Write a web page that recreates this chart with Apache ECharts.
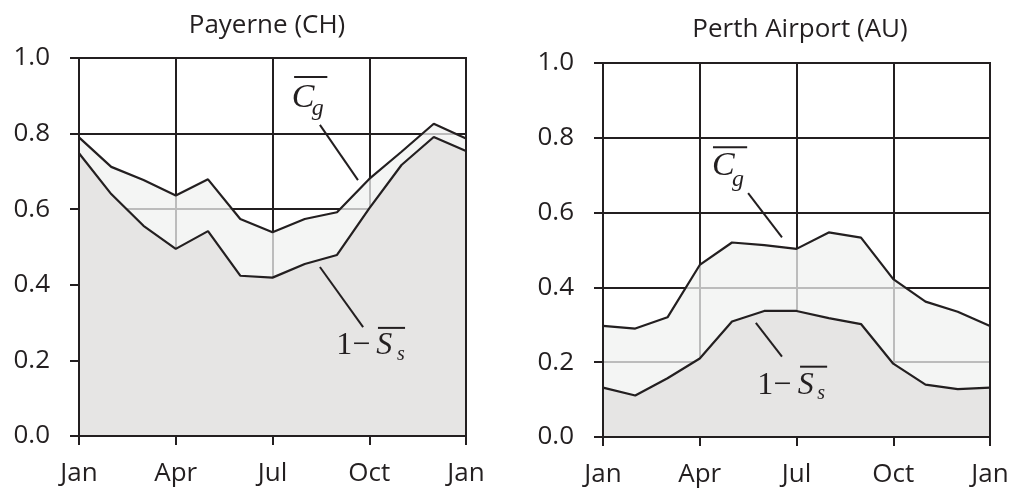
<!DOCTYPE html>
<html><head><meta charset="utf-8">
<script src="https://cdn.jsdelivr.net/npm/echarts@6/dist/echarts.min.js"></script>
<style>html,body{margin:0;padding:0;background:#fff}#c{width:1013px;height:493px}</style>
</head><body><div id="c"></div>
<script>
// ---- data ----
const months = ['Jan','Feb','Mar','Apr','May','Jun','Jul','Aug','Sep','Oct','Nov','Dec','Jan'];
const xTickLabels = ['Jan','Apr','Jul','Oct','Jan'];
const yTicks = [0.0, 0.2, 0.4, 0.6, 0.8, 1.0];
const titles = ['Payerne (CH)', 'Perth Airport (AU)'];
const payerneCg = [0.790,0.712,0.677,0.636,0.679,0.574,0.539,0.574,0.592,0.680,0.752,0.826,0.787];
const payerneOneMinusSs = [0.748,0.640,0.556,0.495,0.542,0.424,0.419,0.455,0.479,0.602,0.717,0.791,0.754];
const perthCg = [0.297,0.290,0.320,0.460,0.520,0.513,0.503,0.547,0.533,0.422,0.362,0.335,0.297];
const perthOneMinusSs = [0.132,0.111,0.157,0.210,0.309,0.337,0.337,0.318,0.302,0.196,0.140,0.128,0.132];

// annotation anchors in data coordinates [month index, value]
const annCg = [
  {C:[6.60,0.894], g:[7.22,0.866], bar:[[6.67,0.950],[7.70,0.950]], lead:[[7.47,0.823],[8.65,0.677]]},
  {C:[3.38,0.724], g:[4.00,0.687], bar:[[3.41,0.775],[4.47,0.775]], lead:[[4.50,0.652],[5.55,0.534]]}
];
const annSs = [
  {one:[7.98,0.238], S:[9.22,0.238], s:[9.86,0.215], bar:[[9.27,0.286],[10.11,0.286]], lead:[[7.47,0.447],[8.81,0.288]]},
  {one:[4.78,0.137], S:[6.04,0.137], s:[6.64,0.116], bar:[[6.11,0.188],[6.95,0.188]], lead:[[4.74,0.305],[5.55,0.215]]}
];

const INK = '#231f20';
const pairs = arr => arr.map((v, i) => [i, v]);

function xAxis(g) {
  return {
    type: 'value', gridIndex: g, min: 0, max: months.length - 1, interval: 3,
    axisLine: {show: false},
    axisTick: {show: true, length: 9, lineStyle: {color: INK, width: 2}},
    axisLabel: {color: INK, fontFamily: 'Open Sans', fontSize: 26, margin: 25,
      formatter: v => xTickLabels[v / 3]},
    splitLine: {show: true, lineStyle: {color: INK, width: 2}}
  };
}
function yAxis(g) {
  return {
    type: 'value', gridIndex: g, min: yTicks[0], max: yTicks[yTicks.length - 1], interval: 0.2,
    axisLine: {show: false},
    axisTick: {show: true, length: 9, lineStyle: {color: INK, width: 2}},
    axisLabel: {color: INK, fontFamily: 'Open Sans', fontSize: 26, margin: 29,
      formatter: v => v.toFixed(1)},
    splitLine: {show: true, lineStyle: {color: INK, width: 2}}
  };
}
function upper(g, arr) {
  return {type: 'line', xAxisIndex: g, yAxisIndex: g, data: pairs(arr), symbol: 'none',
    lineStyle: {color: INK, width: 2.2}, areaStyle: {color: 'rgba(240,241,240,0.75)', opacity: 1},
    z: 2, silent: true, animation: false};
}
function lower(g, arr) {
  return {type: 'line', xAxisIndex: g, yAxisIndex: g, data: pairs(arr), symbol: 'none',
    lineStyle: {color: INK, width: 2.2}, areaStyle: {color: '#e6e5e4', opacity: 1},
    z: 3, silent: true, animation: false};
}
const gridBase = {show: true, borderColor: INK, borderWidth: 2, backgroundColor: 'transparent', z: 5};

const chart = echarts.init(document.getElementById('c'), null, {renderer: 'canvas'});
chart.setOption({
  animation: false,
  backgroundColor: '#ffffff',
  title: [
    {text: titles[0], left: 262, top: 8, textAlign: 'center',
     textStyle: {color: INK, fontFamily: 'Open Sans', fontSize: 26, fontWeight: 'normal'}},
    {text: titles[1], left: 795, top: 12, textAlign: 'center',
     textStyle: {color: INK, fontFamily: 'Open Sans', fontSize: 26, fontWeight: 'normal'}}
  ],
  grid: [
    Object.assign({left: 79, right: 547, top: 58, bottom: 57}, gridBase),
    Object.assign({left: 603, right: 23, top: 63, bottom: 56}, gridBase)
  ],
  xAxis: [xAxis(0), xAxis(1)],
  yAxis: [yAxis(0), yAxis(1)],
  series: [
    upper(0, payerneCg), lower(0, payerneOneMinusSs),
    upper(1, perthCg), lower(1, perthOneMinusSs)
  ]
});

// annotations
const px = (g, p) => chart.convertToPixel({gridIndex: g}, p);
const SERIF = 'Liberation Serif';
const graphics = [];
function txt(pt, text, size, italic) {
  return {type: 'text', x: pt[0], y: pt[1], z: 20, silent: true,
    style: {text: text, fill: INK, fontFamily: SERIF, fontSize: size,
      fontStyle: italic ? 'italic' : 'normal', align: 'left', verticalAlign: 'middle'}};
}
function ln(a, b) {
  return {type: 'line', z: 20, silent: true,
    shape: {x1: a[0], y1: a[1], x2: b[0], y2: b[1]},
    style: {stroke: INK, lineWidth: 2}};
}
[0, 1].forEach(g => {
  const c = annCg[g], s = annSs[g];
  graphics.push(txt(px(g, c.C), 'C', 34, true));
  graphics.push(txt(px(g, c.g), 'g', 24, true));
  graphics.push(ln(px(g, c.bar[0]), px(g, c.bar[1])));
  graphics.push(ln(px(g, c.lead[0]), px(g, c.lead[1])));
  graphics.push(txt(px(g, s.one), '1\u2212', 32, false));
  graphics.push(txt(px(g, s.S), 'S', 32, true));
  graphics.push(txt(px(g, s.s), 's', 20, true));
  graphics.push(ln(px(g, s.bar[0]), px(g, s.bar[1])));
  graphics.push(ln(px(g, s.lead[0]), px(g, s.lead[1])));
});
chart.setOption({graphic: graphics});
</script></body></html>
